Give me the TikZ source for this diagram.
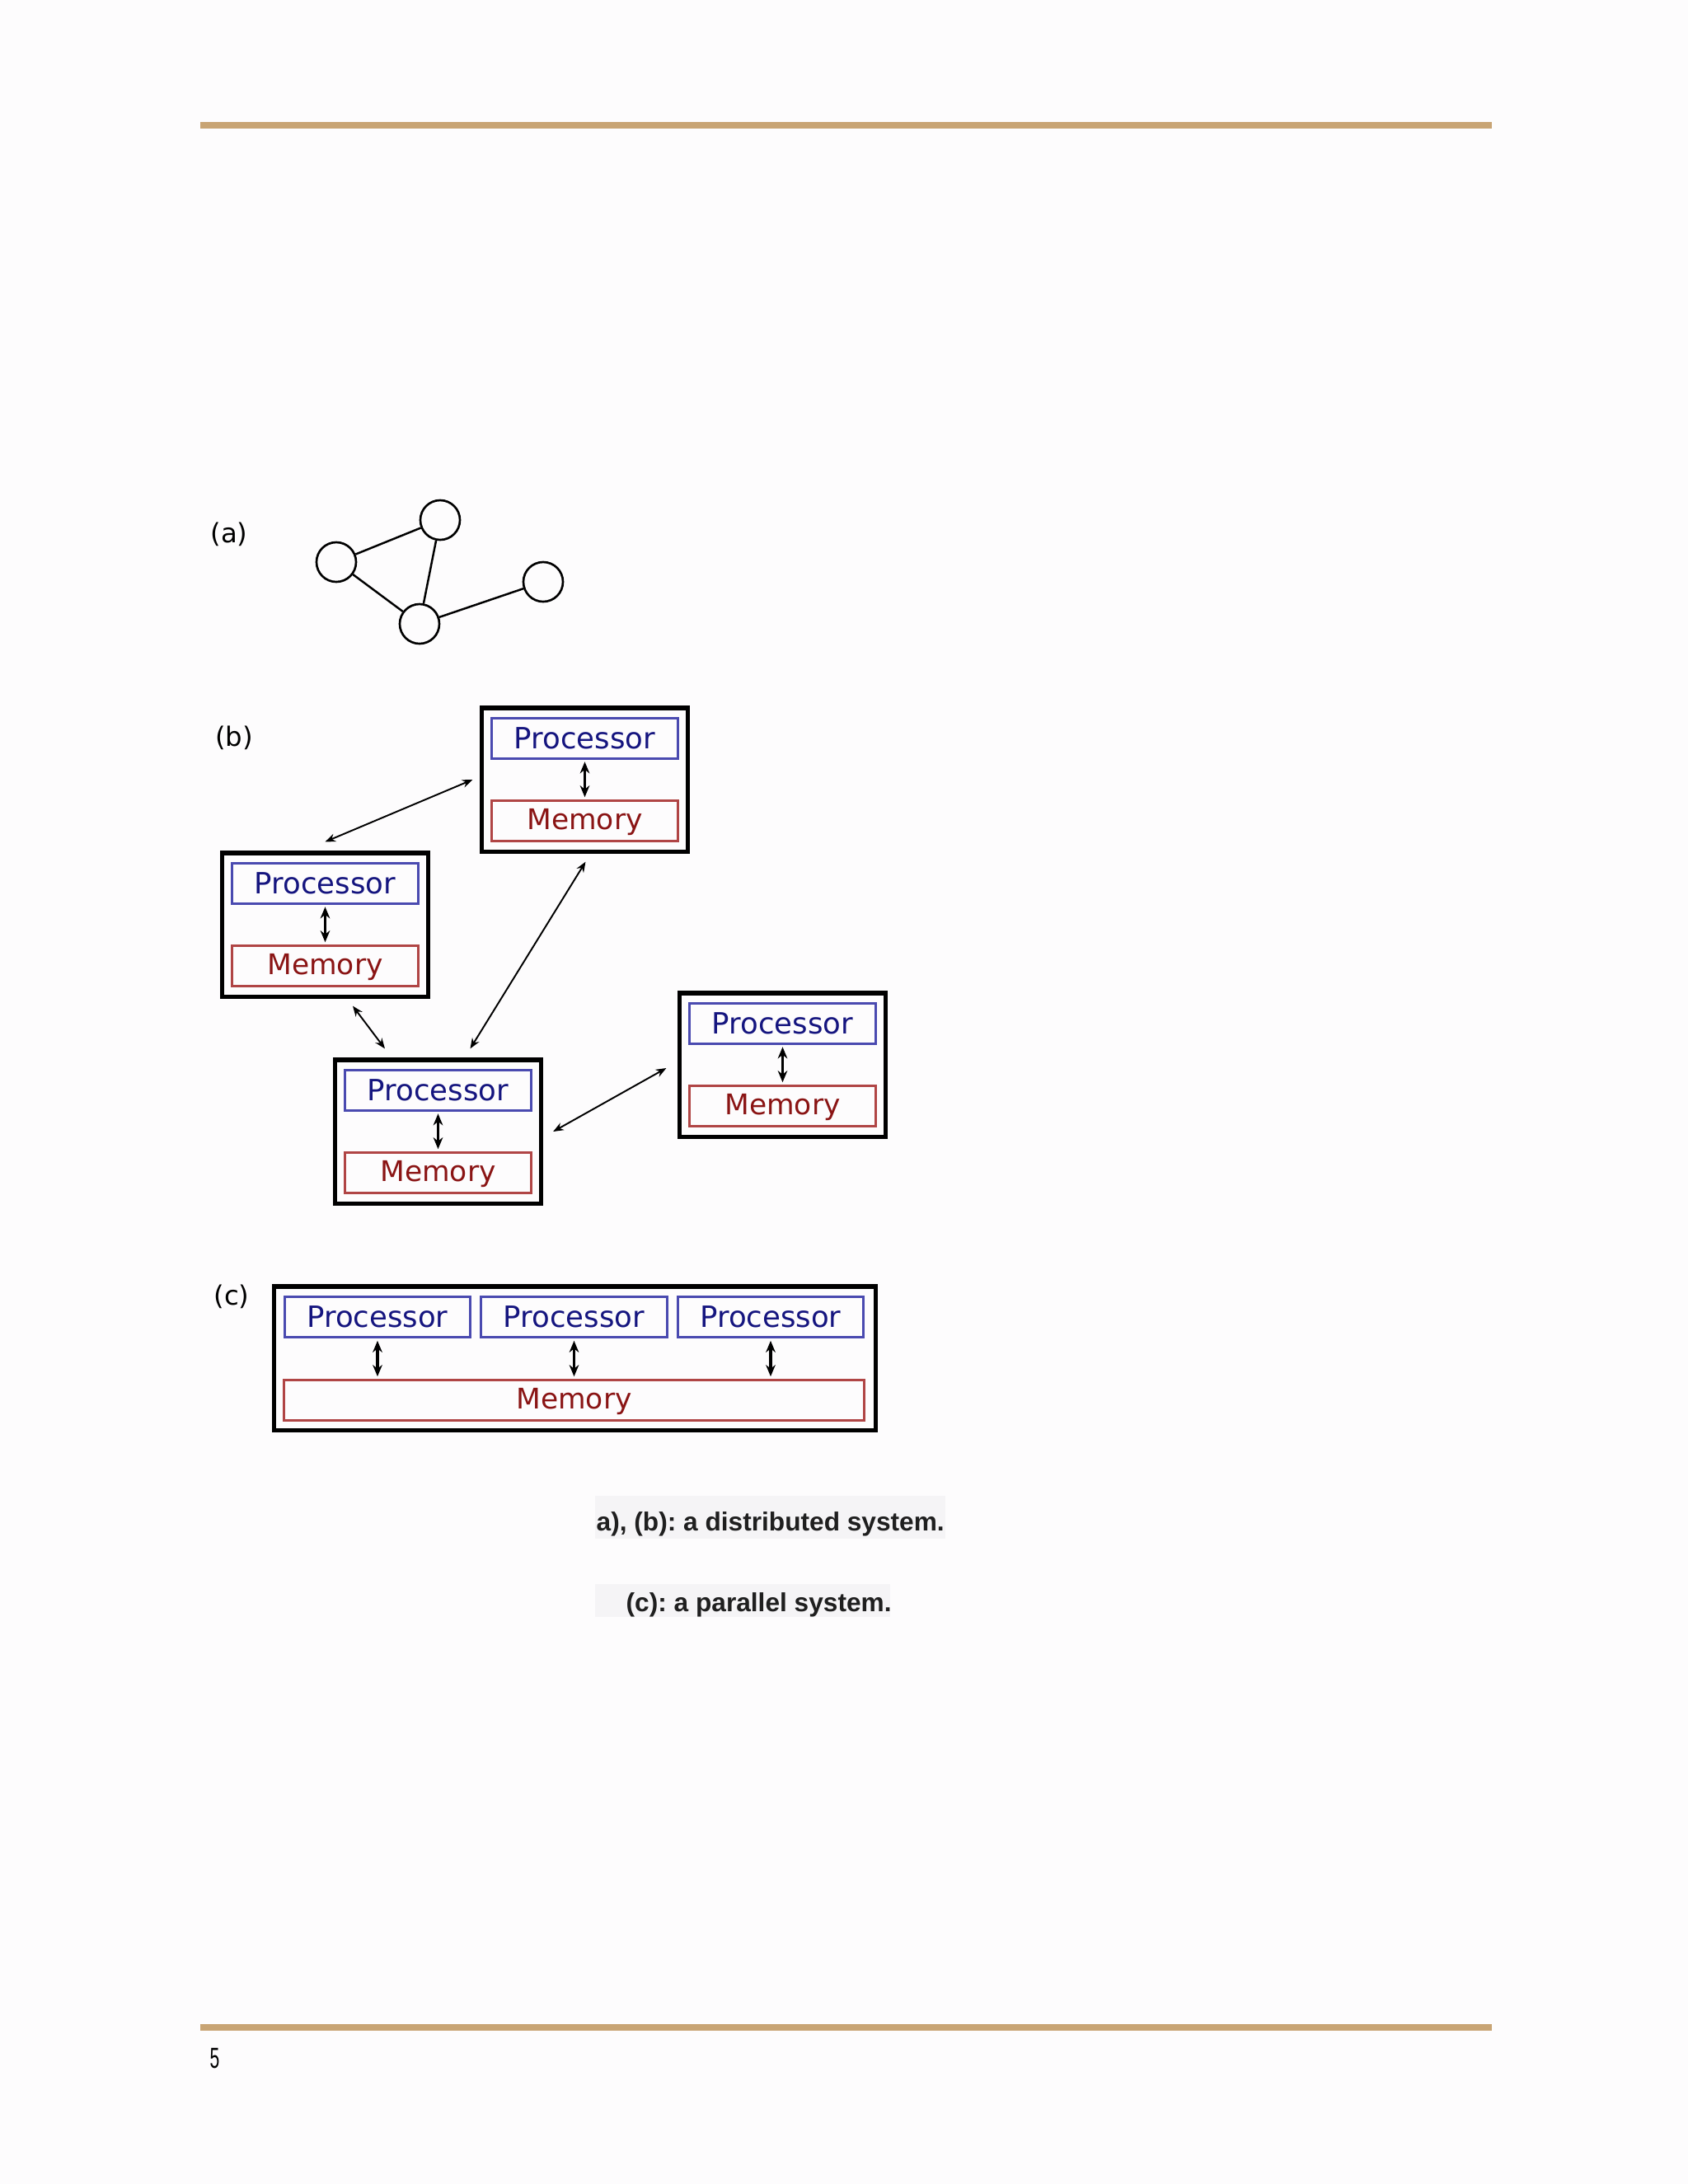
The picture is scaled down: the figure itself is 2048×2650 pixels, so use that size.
\documentclass[tikz,border=0pt]{standalone}
\usepackage{fontspec}
\setmainfont{DejaVu Sans}
\newfontfamily\capfont{Liberation Sans}
\usetikzlibrary{arrows.meta,calc}
\definecolor{rulec}{HTML}{C8A474}
\definecolor{procb}{HTML}{4A4AB0}
\definecolor{proct}{HTML}{15157F}
\definecolor{memb}{HTML}{B04545}
\definecolor{memt}{HTML}{8A1414}
\definecolor{pagebg}{HTML}{FDFCFD}
\definecolor{hl}{HTML}{F5F4F6}
\begin{document}
\frenchspacing
\begin{tikzpicture}[x=0.01cm,y=-0.01cm,
  outerbox/.style={draw=black, line width=1.45pt, minimum width=2.49cm, minimum height=1.74cm, inner sep=0pt},
  procbox/.style={draw=procb, line width=0.85pt, minimum width=2.25cm, minimum height=0.49cm, inner sep=0pt, text=proct, font=\fontsize{10.1pt}{10pt}\selectfont},
  membox/.style={draw=memb, line width=0.85pt, minimum width=2.25cm, minimum height=0.49cm, inner sep=0pt, text=memt, text height=0.8em, text depth=0.19em, font=\fontsize{9.8pt}{10pt}\selectfont},
  link/.style={{Stealth[length=3.6pt,width=2.8pt]}-{Stealth[length=3.6pt,width=2.8pt]}, line width=0.55pt},
  inlink/.style={{Stealth[length=4pt,width=3.3pt]}-{Stealth[length=4pt,width=3.3pt]}, line width=0.95pt, shorten <=0.8pt, shorten >=0.8pt},
  vertex/.style={circle, draw=black, line width=0.75pt, minimum size=0.48cm, inner sep=0pt},
  edge/.style={line width=0.7pt},
  lbl/.style={inner sep=0pt, font=\fontsize{9.2pt}{10pt}\selectfont},
  captxt/.style={anchor=base west, inner sep=0pt, font=\capfont\bfseries\fontsize{9pt}{10pt}\selectfont, text=black!88}
]
% page
\fill[pagebg] (0,0) rectangle (2048,2650);
\fill[rulec] (243,148) rectangle (1810,156);
\fill[rulec] (243,2456) rectangle (1810,2464);
\node[anchor=base west, inner sep=0pt, font=\capfont\fontsize{10pt}{10pt}\selectfont] (pg) at (254,2509) {\scalebox{0.6}[1]{5}};

% (a)
\node[lbl] (la) at (278,648) {(a)};
\node[vertex] (A) at (408,682) {};
\node[vertex] (B) at (534,631) {};
\node[vertex] (C) at (509,757) {};
\node[vertex] (D) at (659,706) {};
\draw[edge] (A) -- (B);
\draw[edge] (A) -- (C);
\draw[edge] (B) -- (C);
\draw[edge] (C) -- (D);

% (b)
\node[lbl] (lb) at (284,895) {(b)};
\foreach \n/\ox/\oy in {T/583/857, L/268/1033, M/405/1284, R/823/1203}{
  \node[outerbox] (\n) at (\ox+126.5,\oy+89) {};
  \node[procbox] (\n-p) at (\ox+126.5,\oy+38.5) {Processor};
  \node[membox] (\n-m) at (\ox+126.5,\oy+139) {Memory};
  \draw[inlink] (\n-p) -- (\n-m);
}
\draw[link] ($(L.north)+(0,-11)$) -- ($(T.west)+(-9,0)$);
\draw[link] ($(T.south)+(1,10)$) -- ($(M.north)+(39,-11)$);
\draw[link] ($(L.south)+(33.5,9)$) -- ($(M.north)+(-64.5,-11)$);
\draw[link] ($(M.east)+(12.5,0)$) -- ($(R.west)+(-14,4)$);

% (c)
\node[lbl] (lc) at (281,1573) {(c)};
\node[outerbox, minimum width=7.29cm] (P) at (697.5,1648) {};
\node[procbox] (P-p1) at (458,1598) {Processor};
\node[procbox] (P-p2) at (696.5,1598) {Processor};
\node[procbox] (P-p3) at (935,1598) {Processor};
\node[membox, minimum width=7.03cm] (P-m) at (696.5,1699) {Memory};
\foreach \i in {1,2,3}{
  \draw[inlink] (P-p\i.south) -- (P-p\i.south |- P-m.north);
}

% captions
\fill[hl] (722,1815) rectangle (1147,1867);
\fill[hl] (722,1922) rectangle (1080,1962);
\node[captxt] (cap1) at (723,1857) {a), (b): a distributed system.};
\node[captxt] (cap2) at (759,1955) {(c): a parallel system.};
\end{tikzpicture}
\end{document}
